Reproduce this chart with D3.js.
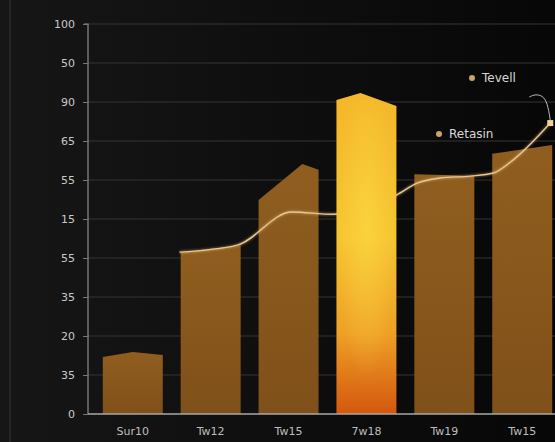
<!DOCTYPE html>
<html><head><meta charset="utf-8">
<script src="https://cdn.jsdelivr.net/npm/d3@7"></script>
<style>html,body{margin:0;padding:0;background:#0e0e0e;}svg{display:block;}</style>
</head><body>
<svg id="c" width="555" height="442"></svg>
<script>
// ---- data ----
const categories = ["Sur10", "Tw12", "Tw15", "7w18", "Tw19", "Tw15"];
const barLeft  = [14.6, 41.5, 54.9, 80.5, 61.5, 66.7];
const barPeak  = [15.9, 43.3, 64.1, 82.3, 61.3, 69.0];
const barRight = [15.1, 43.3, 62.6, 79.0, 61.0, 69.0];
const peakAt   = [0.5, 1.0, 0.73, 0.4, 0.5, 1.0];
const highlightIndex = 3;
const yTickValues = [0, 10, 20, 30, 40, 50, 60, 70, 80, 90, 100];
const yTickLabels = ["0", "35", "20", "35", "55", "15", "55", "65", "90", "50", "100"];
const lineX = [0.60, 1.34, 2.04, 2.57, 2.92, 3.39, 3.65, 3.95, 4.33, 4.63, 4.85, 5.36];
const lineY = [41.5, 43.3, 51.8, 51.2, 52.5, 56.2, 59.2, 60.5, 61.0, 61.8, 64.6, 74.6];
const legendLabels = ["Tevell", "Retasin"];

// ---- layout ----
const W = 555, H = 442;
const svg = d3.select("#c");
const x0 = 88, yBase = 414, yTop = 24;

const defs = svg.append("defs");
const bg = defs.append("linearGradient").attr("id", "bg").attr("x1", 0).attr("x2", 1).attr("y1", 0).attr("y2", 0);
bg.append("stop").attr("offset", 0).attr("stop-color", "#161616");
bg.append("stop").attr("offset", 1).attr("stop-color", "#070707");
const bar = defs.append("linearGradient").attr("id", "bar").attr("x1", 0).attr("x2", 0).attr("y1", 0).attr("y2", 1);
bar.append("stop").attr("offset", 0).attr("stop-color", "#8f5e1f");
bar.append("stop").attr("offset", 1).attr("stop-color", "#80501a");
const hi = defs.append("linearGradient").attr("id", "hi").attr("x1", 0).attr("x2", 0).attr("y1", 0).attr("y2", 1);
hi.append("stop").attr("offset", 0).attr("stop-color", "#f4b72a");
hi.append("stop").attr("offset", 0.45).attr("stop-color", "#f6c430");
hi.append("stop").attr("offset", 0.75).attr("stop-color", "#eea026");
hi.append("stop").attr("offset", 1).attr("stop-color", "#d4570e");
const glow = defs.append("radialGradient").attr("id", "glow").attr("cx", 0.5).attr("cy", 0.4).attr("r", 0.5);
glow.append("stop").attr("offset", 0).attr("stop-color", "#ffe04a").attr("stop-opacity", 0.5);
glow.append("stop").attr("offset", 1).attr("stop-color", "#ffe04a").attr("stop-opacity", 0);
const blur = defs.append("filter").attr("id", "blur").attr("x", "-50%").attr("y", "-50%").attr("width", "200%").attr("height", "200%");
blur.append("feGaussianBlur").attr("stdDeviation", 1.2);

svg.append("rect").attr("width", W).attr("height", H).attr("fill", "url(#bg)");
svg.append("line").attr("x1", 10).attr("x2", 10).attr("y1", 0).attr("y2", H)
  .attr("stroke", "#2c2c2c").attr("stroke-width", 1.5);

const y = d3.scaleLinear().domain([0, 100]).range([yBase, yTop]);
const xb = d3.scaleBand().domain(d3.range(categories.length)).range([x0, 567])
  .paddingInner(0.23).paddingOuter(0.19);
const xc = d3.scaleLinear().domain([0, 1]).range([xb(0) + xb.bandwidth() / 2, xb(1) + xb.bandwidth() / 2]);

// gridlines
svg.append("g").selectAll("line").data(yTickValues.slice(1)).join("line")
  .attr("x1", x0).attr("x2", W).attr("y1", d => y(d)).attr("y2", d => y(d))
  .attr("stroke", "#343434").attr("stroke-width", 1.2);

const bw = xb.bandwidth();
const barPath = (d, i) => {
  const l = xb(i), r = l + bw, p = l + bw * peakAt[i];
  return `M${l},${yBase}L${l},${y(barLeft[i])}L${p},${y(barPeak[i])}L${r},${y(barRight[i])}L${r},${yBase}Z`;
};
const idx = d3.range(categories.length);

// regular bars
svg.append("g").selectAll("path").data(idx.filter(i => i !== highlightIndex)).join("path")
  .attr("d", i => barPath(null, i)).attr("fill", "url(#bar)");

// line
const lineData = lineX.map((v, i) => [v, lineY[i]]);
const lg = d3.line().x(d => xc(d[0])).y(d => y(d[1])).curve(d3.curveMonotoneX);
svg.append("path").datum(lineData).attr("d", lg).attr("fill", "none")
  .attr("stroke", "#f2c98a").attr("stroke-width", 3).attr("opacity", 0.35).attr("filter", "url(#blur)");
svg.append("path").datum(lineData).attr("d", lg).attr("fill", "none")
  .attr("stroke", "#e9c690").attr("stroke-width", 1.4);
const last = lineData[lineData.length - 1];
const lx = xc(last[0]), ly = y(last[1]);
svg.append("rect").attr("x", lx - 3).attr("y", ly - 3).attr("width", 6).attr("height", 6)
  .attr("fill", "#f0d29a");
// leader squiggle to legend
svg.append("path")
  .attr("d", d3.line().curve(d3.curveBasis)([[lx, ly - 3], [lx - 2, ly - 16], [lx - 6, ly - 27], [lx - 15, ly - 29], [lx - 21, ly - 26]]))
  .attr("fill", "none").attr("stroke", "#bdbdbd").attr("stroke-width", 1);

// highlight bar drawn over the line
svg.append("path").attr("d", barPath(null, highlightIndex)).attr("fill", "url(#hi)");
{
  const i = highlightIndex, l = xb(i);
  svg.append("rect").attr("x", l).attr("width", bw)
    .attr("y", y(barLeft[i])).attr("height", yBase - y(barLeft[i]))
    .attr("fill", "url(#glow)");
}

// axes
const yAxis = d3.axisLeft(y).tickValues(yTickValues).tickFormat((d, i) => yTickLabels[i]).tickSize(5).tickPadding(8);
const gy = svg.append("g").attr("transform", `translate(${x0},0)`).call(yAxis);
gy.select(".domain").attr("stroke", "#8e8e8e").attr("stroke-width", 1.2).attr("d", `M-4,${yTop}H0V${yBase}`);
gy.selectAll(".tick line").attr("stroke", "#777");
gy.selectAll(".tick text").attr("fill", "#c9c9c9").attr("font-family", "DejaVu Sans, sans-serif").attr("font-size", 11);

const xAxis = d3.axisBottom(xb).tickFormat(i => categories[i]).tickSize(0).tickPadding(13);
const gx = svg.append("g").attr("transform", `translate(0,${yBase})`).call(xAxis);
gx.select(".domain").attr("stroke", "#a8a8a8").attr("stroke-width", 1.5).attr("d", `M${x0},0H${W}`);
gx.selectAll(".tick text").attr("fill", "#bdbdbd").attr("font-family", "DejaVu Sans, sans-serif").attr("font-size", 11);

// legend
const legendPos = [[472, 78], [439, 134]];
const lgd = svg.append("g").selectAll("g").data(legendLabels).join("g")
  .attr("transform", (d, i) => `translate(${legendPos[i][0]},${legendPos[i][1]})`);
lgd.append("circle").attr("r", 3).attr("fill", "#c9a46a");
lgd.append("text").attr("x", 10).attr("dy", "0.35em").text(d => d)
  .attr("fill", "#d8d8d8").attr("font-family", "DejaVu Sans, sans-serif").attr("font-size", 12);
</script>
</body></html>
